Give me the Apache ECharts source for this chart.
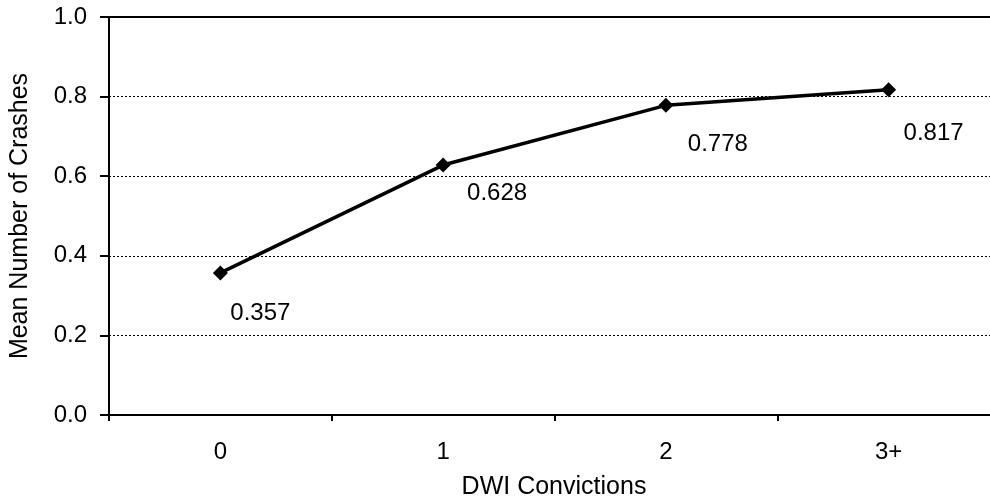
<!DOCTYPE html>
<html>
<head>
<meta charset="utf-8">
<script src="https://cdn.jsdelivr.net/npm/echarts@6/dist/echarts.min.js"></script>
<style>
html,body{margin:0;padding:0;background:#fff;overflow:hidden;}
#chart{width:990px;height:498px;}
</style>
</head>
<body>
<div id="chart"></div>
<script>
const categories = ['0', '1', '2', '3+'];
const meanCrashes = [0.357, 0.628, 0.778, 0.817];
const valueLabels = ['0.357', '0.628', '0.778', '0.817'];
const yTicks = [0, 0.2, 0.4, 0.6, 0.8, 1.0];

// label offsets (style only)
const labelOffsets = [[40, 40], [54, 28], [52, 39], [45, 44]];

const FONT = 'Liberation Sans, Arial, sans-serif';
const FS = 24;
const chart = echarts.init(document.getElementById('chart'), null, {renderer: 'canvas'});

chart.setOption({
  animation: false,
  backgroundColor: '#fff',
  title: {
    text: 'DWI Convictions',
    left: 554,
    top: 475,
    textAlign: 'center',
    padding: 0,
    textStyle: {fontFamily: FONT, fontSize: 25, fontWeight: 'normal', color: '#000'}
  },
  grid: {
    left: 109, top: 17, width: 891, height: 398,
    containLabel: false,
    outerBoundsMode: 'none',
    show: true, borderColor: '#000', borderWidth: 2, backgroundColor: 'transparent'
  },
  xAxis: {
    type: 'category',
    data: categories,
    boundaryGap: true,
    axisLine: {lineStyle: {color: '#000', width: 2}},
    axisTick: {show: true, length: 6, lineStyle: {color: '#000', width: 2}},
    axisLabel: {fontFamily: FONT, fontSize: FS, color: '#000', margin: 25},
    splitLine: {show: false}
  },
  yAxis: {
    type: 'value',
    min: yTicks[0],
    max: yTicks[yTicks.length - 1],
    interval: 0.2,
    name: 'Mean Number of Crashes',
    nameLocation: 'middle',
    nameGap: 76,
    nameRotate: 90,
    nameTextStyle: {fontFamily: FONT, fontSize: 25, color: '#000'},
    axisLine: {show: true, lineStyle: {color: '#000', width: 2}},
    axisTick: {show: true, length: 9, lineStyle: {color: '#000', width: 2}},
    axisLabel: {fontFamily: FONT, fontSize: FS, color: '#000', margin: 22,
      formatter: v => v.toFixed(1)},
    splitLine: {show: true, lineStyle: {color: '#000', width: 1, type: [2, 2]}}
  },
  series: [{
    type: 'line',
    data: meanCrashes.map((v, i) => ({
      value: v,
      label: {offset: labelOffsets[i]}
    })),
    symbol: 'diamond',
    symbolSize: [15, 15],
    lineStyle: {color: '#000', width: 3.5},
    itemStyle: {color: '#000'},
    label: {
      show: true,
      position: 'inside',
      fontFamily: FONT,
      fontSize: FS,
      color: '#000',
      formatter: p => valueLabels[p.dataIndex]
    }
  }]
});
</script>
</body>
</html>
